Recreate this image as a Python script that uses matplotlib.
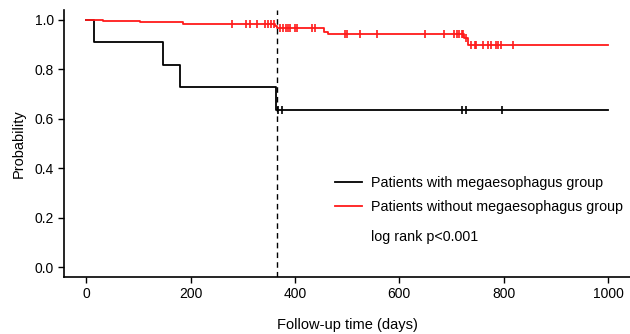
import numpy as np
import matplotlib.pyplot as plt

plt.rcParams['font.family'] = ['Liberation Sans', 'DejaVu Sans']

# Curva com megaesôfago (n=11): tempos dos degraus e probabilidade após cada degrau
with_t = [0, 15, 147, 180, 364, 1000]
with_p = [1.0, 0.909, 0.818, 0.727, 0.636, 0.636]
with_cens = [368, 375, 720, 728, 796]

# Curva sem megaesôfago
without_t = [0, 33, 103, 185, 362, 366, 455, 463, 724, 731, 1000]
without_p = [1.0, 0.995, 0.990, 0.985, 0.977, 0.969, 0.952, 0.942, 0.927, 0.899, 0.899]
without_cens = [279, 306, 313, 328, 343, 349, 354, 360, 372, 377, 382, 386, 391,
                400, 404, 432, 439, 496, 500, 524, 558, 649, 685, 705, 710, 715,
                720, 722, 728, 737, 745, 747, 761, 769, 775, 785, 790, 794, 817]

labels = ['Patients with megaesophagus group', 'Patients without megaesophagus group']
colors = ['black', '#FF1A1A']
cut_day = 365


def level_at(ts, ps, x):
    i = np.searchsorted(ts, x, side='right') - 1
    return np.array(ps)[i]


fig = plt.figure(figsize=(6.3, 3.34), dpi=100)
ax = fig.add_axes([0.102, 0.171, 0.898, 0.799])

for ts, ps, cens, c, lab in [(with_t, with_p, with_cens, colors[0], labels[0]),
                             (without_t, without_p, without_cens, colors[1], labels[1])]:
    ax.step(ts, ps, where='post', color=c, lw=1.3, label=lab)
    ax.plot(cens, level_at(ts, ps, cens), ls='none', marker='|', ms=6, mew=1.2, color=c)

ax.axvline(cut_day, color='black', ls=(0, (4, 3)), lw=1)

ax.set_xlim(-42, 1042)
ax.set_ylim(-0.04, 1.04)
ax.set_xticks([0, 200, 400, 600, 800, 1000])
ax.set_yticks([0.0, 0.2, 0.4, 0.6, 0.8, 1.0])
ax.set_yticklabels(['0.0', '0.2', '0.4', '0.6', '0.8', '1.0'])
ax.tick_params(labelsize=10, length=4, width=1)
for s in ['top', 'right']:
    ax.spines[s].set_visible(False)
for s in ['left', 'bottom']:
    ax.spines[s].set_linewidth(1.2)

ax.set_xlabel('Follow-up time (days)', fontsize=10.5, labelpad=12)
ax.set_ylabel('Probability', fontsize=10.5, labelpad=6)

leg = ax.legend(loc='upper left', bbox_to_anchor=(0.455, 0.425), frameon=False,
                fontsize=10.3, handlelength=1.95, handletextpad=0.6, labelspacing=0.68)
ax.text(0.543, 0.15, 'log rank p<0.001', transform=ax.transAxes, fontsize=10.3,
        va='center', ha='left')

fig.savefig('out.png', dpi=100)
